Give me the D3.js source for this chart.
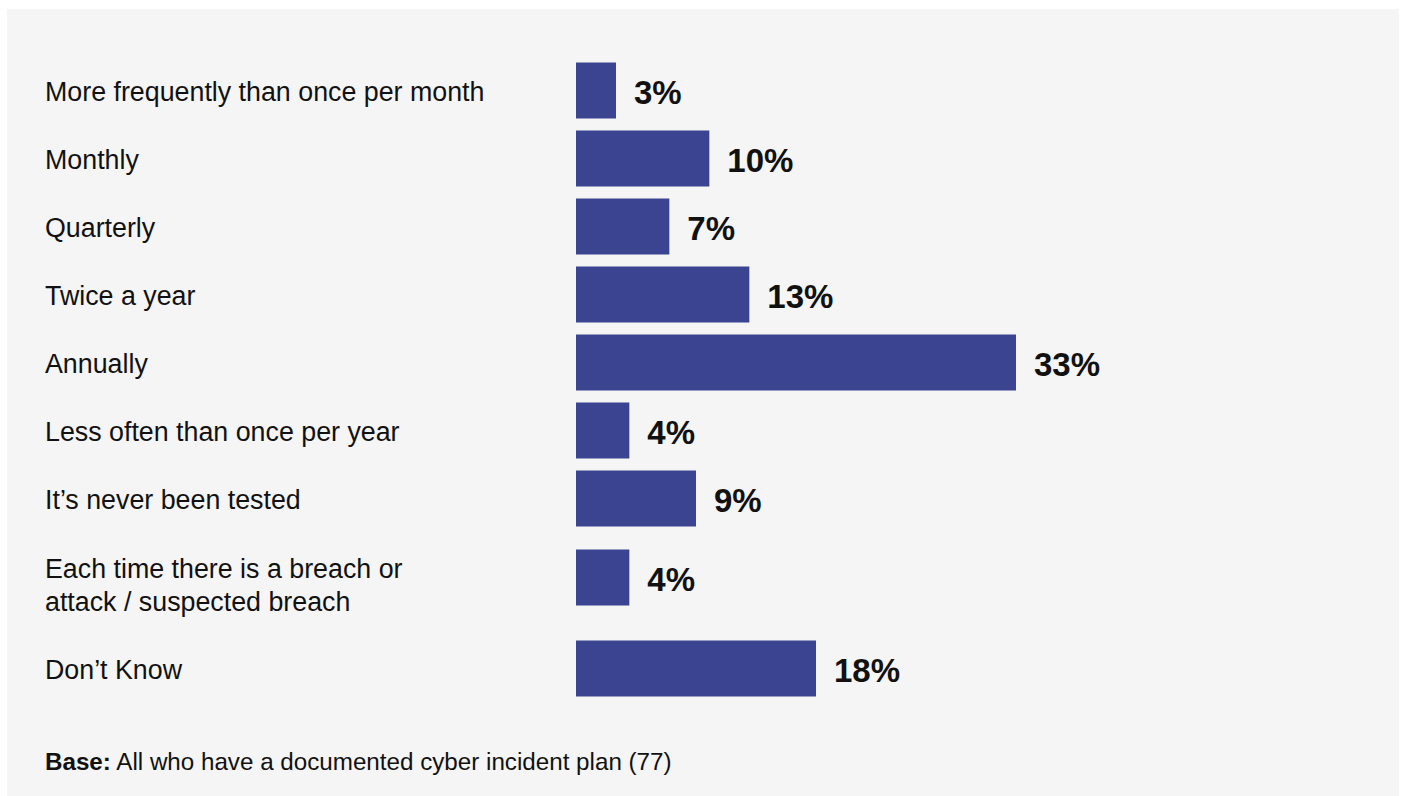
<!DOCTYPE html>
<html>
<head>
<meta charset="utf-8">
<script src="https://cdn.jsdelivr.net/npm/d3@7"></script>
<style>
  html, body { margin: 0; padding: 0; background: #ffffff; }
  svg { display: block; }
</style>
</head>
<body>
<svg id="chart" width="1403" height="796"></svg>
<script>
// Categories (a "\n" splits a label over two lines)
const categories = [
  "More frequently than once per month",
  "Monthly",
  "Quarterly",
  "Twice a year",
  "Annually",
  "Less often than once per year",
  "It\u2019s never been tested",
  "Each time there is a breach or\nattack / suspected breach",
  "Don\u2019t Know"
];
// Share of respondents, in percent
const values = [3, 10, 7, 13, 33, 4, 9, 4, 18];
const footnoteBold = "Base:";
const footnoteText = " All who have a documented cyber incident plan (77)";

const W = 1403, H = 796;
const svg = d3.select("#chart");
const font = "'Liberation Sans', Arial, Helvetica, sans-serif";
const barColor = "#3b4491";
const labelSize = 26.8, valueSize = 33, lineHeight = 33;
const baseRow = 68, barHeight = 56;

// panel background
svg.append("rect")
  .attr("x", 7).attr("y", 9)
  .attr("width", 1392).attr("height", H - 9)
  .attr("fill", "#f5f5f5");

const rows = categories.map((c, i) => ({
  label: c, lines: c.split("\n"), value: values[i]
}));

// vertical layout: multi-line labels get taller rows
let rowTop = 56.5;
rows.forEach(r => {
  r.top = rowTop;
  r.height = baseRow + (r.lines.length - 1) * 34;
  r.labelCenter = r.top + r.height / 2;
  r.barCenter = r.top + baseRow / 2 + (r.lines.length - 1) * 11;
  rowTop += r.height;
});

const x = d3.scaleLinear().domain([0, 33]).range([576, 1016]);

const g = svg.append("g");

// bars
g.selectAll("rect.bar").data(rows).join("rect")
  .attr("class", "bar")
  .attr("x", x(0))
  .attr("y", d => d.barCenter - barHeight / 2)
  .attr("width", d => x(d.value) - x(0))
  .attr("height", barHeight)
  .attr("fill", barColor);

// category labels
const capH = 0.716 * labelSize;
g.selectAll("text.cat").data(rows).join("text")
  .attr("class", "cat")
  .attr("font-family", font)
  .attr("font-size", labelSize)
  .attr("fill", "#111")
  .each(function (d) {
    const n = d.lines.length;
    const blockH = capH + (n - 1) * lineHeight;
    const firstBaseline = d.labelCenter - blockH / 2 + capH + 1;
    d3.select(this).selectAll("tspan").data(d.lines).join("tspan")
      .attr("x", 45)
      .attr("y", (l, k) => firstBaseline + k * lineHeight)
      .text(l => l);
  });

// value labels
g.selectAll("text.val").data(rows).join("text")
  .attr("class", "val")
  .attr("x", d => x(d.value) + 18)
  .attr("y", d => d.barCenter + 13)
  .attr("font-family", font)
  .attr("font-size", valueSize)
  .attr("font-weight", "bold")
  .attr("fill", "#111")
  .text(d => d.value + "%");

// footnote
const foot = svg.append("text")
  .attr("x", 45).attr("y", 770)
  .attr("font-family", font)
  .attr("font-size", 24.2)
  .attr("fill", "#111");
foot.append("tspan").attr("font-weight", "bold").text(footnoteBold);
foot.append("tspan").text(footnoteText);
</script>
</body>
</html>
